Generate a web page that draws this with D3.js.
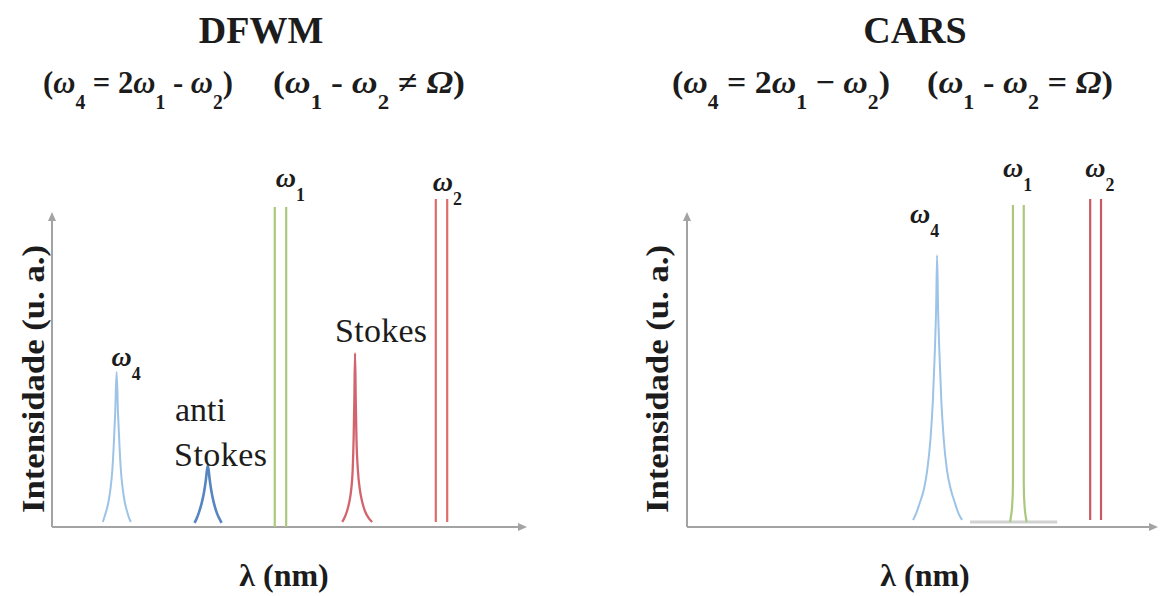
<!DOCTYPE html>
<html>
<head>
<meta charset="utf-8">
<script src="https://cdn.jsdelivr.net/npm/d3@7"></script>
<style>
  html, body { margin: 0; padding: 0; background: #fff; }
  svg { display: block; }
  text { font-family: "Liberation Serif", "Times New Roman", "DejaVu Serif", serif; fill: #1c1c1c; }
</style>
</head>
<body>
<svg id="chart" width="1161" height="596"></svg>
<script>
// ---- Spectra (λ in arbitrary units 0–100, intensity in a.u. 0–100) ----

// DFWM panel
const dfwmW4Peak = [[10.7,1.6],[11.0,3],[11.4,5],[11.9,8],[12.3,12],[12.7,18],[13.0,26],[13.3,36],[13.6,49.2],[13.9,36],[14.2,26],[14.5,18],[14.9,12],[15.3,8],[15.8,5],[16.2,3],[16.6,1.6]];
const dfwmAntiStokesPeak = [[30.0,1.3],[30.4,2.5],[30.9,4.5],[31.5,7.5],[32.0,11],[32.4,15],[32.8,19.7],[33.2,15],[33.6,11],[34.1,7.5],[34.7,4.5],[35.3,2.5],[35.7,1.3]];
const dfwmStokesPeak = [[61.1,1.6],[61.6,3],[62.1,5],[62.6,8],[63.0,12],[63.3,18],[63.5,28],[63.65,40],[63.8,55.2],[63.95,40],[64.1,28],[64.4,18],[64.8,12],[65.3,8],[65.9,5],[66.6,3],[67.4,1.6]];
const dfwmW1Edges = [[[46.9,0],[46.9,101.6]], [[49.3,0],[49.3,101.6]]];
const dfwmW2Edges = [[[80.8,1.6],[80.8,104.1]], [[83.2,1.6],[83.2,104.1]]];

// CARS panel
const carsW4Peak = [[48.0,2.2],[48.7,4.5],[49.5,8],[50.3,12],[51.0,18],[51.7,28],[52.2,40],[52.6,55],[52.9,70],[53.1,86.3],[53.3,70],[53.6,55],[54.0,40],[54.5,28],[55.2,18],[56.0,12],[56.8,8],[57.6,4.5],[58.4,2.2]];
const carsW1Edges = [[[68.6,1.6],[69.0,6],[69.2,14],[69.2,102.2]], [[72.1,1.6],[71.7,6],[71.5,14],[71.5,102.2]]];
const carsW2Edges = [[[85.6,2.2],[85.6,104.1]], [[87.9,2.2],[87.9,104.1]]];
const carsBaseline = [[60.1,1.6],[78.6,1.6]];

// Axis titles
const yTitle = "Intensidade (u. a.)";
const xTitle = "λ (nm)";

const svg = d3.select("#chart");

const colors = {
  w4: "#9dc3e6",
  anti: "#5685c0",
  green: "#abc87d",
  redLine: "#df6b6b",
  stokes: "#d2646d",
  redCars: "#cc5864",
  axis: "#a3a3a3",
  base: "#d2d2d2"
};

// rich text helper: parts = [{t, it, sub}]
function richText(g, x, y, parts, size, opts = {}) {
  const t = g.append("text")
    .attr("x", x).attr("y", y)
    .attr("font-size", size)
    .attr("font-weight", opts.weight || "bold")
    .attr("text-anchor", opts.anchor || "start");
  let off = 0;
  parts.forEach(p => {
    const target = p.sub ? size * 0.5 : 0;
    t.append("tspan").text(p.t)
      .attr("dy", target - off)
      .attr("font-size", p.sub ? size * 0.64 : size)
      .attr("font-style", p.it ? "italic" : "normal");
    off = target;
  });
  if (opts.len) t.attr("textLength", opts.len).attr("lengthAdjust", "spacingAndGlyphs");
  return t;
}

function omegaLabel(g, x, y, digit, size) {
  return richText(g, x, y, [{t: "ω", it: true}, {t: digit, sub: true}], size);
}

function panel(cfg) {
  const g = svg.append("g");
  const x = d3.scaleLinear().domain([0, 100]).range([cfg.x0, cfg.x1]);
  const y = d3.scaleLinear().domain([0, 100]).range([cfg.yBase, cfg.yTop]);
  const line = d3.line().x(d => x(d[0])).y(d => y(d[1]));
  const peakLine = d3.line().x(d => x(d[0])).y(d => y(d[1])).curve(d3.curveMonotoneX);

  // axes with arrow heads
  g.append("line").attr("x1", x(0)).attr("y1", y(0)).attr("x2", x(100) - 4).attr("y2", y(0))
    .attr("stroke", colors.axis).attr("stroke-width", 2);
  g.append("line").attr("x1", x(0)).attr("y1", y(0)).attr("x2", x(0)).attr("y2", y(100) + 4)
    .attr("stroke", colors.axis).attr("stroke-width", 2);
  g.append("path")
    .attr("d", `M${x(100)},${y(0)} l-9,-4 l0,8 z`).attr("fill", colors.axis);
  g.append("path")
    .attr("d", `M${x(0)},${y(100)} l-4,9 l8,0 z`).attr("fill", colors.axis);

  cfg.draw(g, x, y, line, peakLine);

  // titles
  g.append("text").attr("x", cfg.titleX).attr("y", 43).attr("text-anchor", "middle")
    .attr("font-size", 38).attr("font-weight", "bold").text(cfg.title);
  cfg.formula(g);

  g.append("text")
    .attr("transform", `translate(${cfg.yTitleX},379) rotate(-90)`)
    .attr("text-anchor", "middle").attr("font-size", 32).attr("font-weight", "bold")
    .attr("textLength", 268).attr("lengthAdjust", "spacingAndGlyphs")
    .text(yTitle);
  g.append("text").attr("x", cfg.xTitleX).attr("y", 586).attr("text-anchor", "middle")
    .attr("font-size", 32).attr("font-weight", "bold").text(xTitle);
}

// ---- DFWM ----
panel({
  x0: 52, x1: 527, yBase: 527, yTop: 212,
  title: "DFWM", titleX: 261, yTitleX: 44, xTitleX: 284,
  formula: g => {
    richText(g, 43, 93, [{t:"("},{t:"ω",it:true},{t:"4",sub:true},{t:" = 2"},{t:"ω",it:true},{t:"1",sub:true},{t:" - "},{t:"ω",it:true},{t:"2",sub:true},{t:")"}], 32, {len: 190});
    richText(g, 273, 93, [{t:"("},{t:"ω",it:true},{t:"1",sub:true},{t:" - "},{t:"ω",it:true},{t:"2",sub:true},{t:" ≠ "},{t:"Ω",it:true},{t:")"}], 32, {len: 192});
  },
  draw: (g, x, y, line, peakLine) => {
    const path = (d, c, w, gen) => g.append("path").datum(d).attr("d", gen || line)
      .attr("fill", "none").attr("stroke", c).attr("stroke-width", w).attr("stroke-linejoin", "round");
    path(dfwmW4Peak, colors.w4, 2, peakLine);
    path(dfwmAntiStokesPeak, colors.anti, 2.6, peakLine);
    path(dfwmStokesPeak, colors.stokes, 2.3, peakLine);
    dfwmW1Edges.forEach(e => path(e, colors.green, 2.2));
    dfwmW2Edges.forEach(e => path(e, colors.redLine, 2.2));

    omegaLabel(g, x(dfwmW4Peak[8][0]) - 5, y(dfwmW4Peak[8][1]) - 6, "4", 28);
    omegaLabel(g, x(dfwmW1Edges[0][1][0]) + 1, y(dfwmW1Edges[0][1][1]) - 20, "1", 28);
    omegaLabel(g, x(dfwmW2Edges[0][1][0]) - 3, y(dfwmW2Edges[0][1][1]) - 8, "2", 28);

    g.append("text").attr("x", 175).attr("y", 421).attr("font-size", 34).text("anti");
    g.append("text").attr("x", 174).attr("y", 466).attr("font-size", 34).attr("textLength", 93).text("Stokes");
    g.append("text").attr("x", 335).attr("y", 342).attr("font-size", 34).attr("textLength", 92).text("Stokes");
  }
});

// ---- CARS ----
panel({
  x0: 687, x1: 1158, yBase: 527, yTop: 212,
  title: "CARS", titleX: 915, yTitleX: 668, xTitleX: 925,
  formula: g => {
    richText(g, 672, 93, [{t:"("},{t:"ω",it:true},{t:"4",sub:true},{t:" = 2"},{t:"ω",it:true},{t:"1",sub:true},{t:" − "},{t:"ω",it:true},{t:"2",sub:true},{t:")"}], 32, {len: 218});
    richText(g, 927, 93, [{t:"("},{t:"ω",it:true},{t:"1",sub:true},{t:" - "},{t:"ω",it:true},{t:"2",sub:true},{t:" = "},{t:"Ω",it:true},{t:")"}], 32, {len: 186});
  },
  draw: (g, x, y, line, peakLine) => {
    const path = (d, c, w, gen) => g.append("path").datum(d).attr("d", gen || line)
      .attr("fill", "none").attr("stroke", c).attr("stroke-width", w).attr("stroke-linejoin", "round");
    path(carsBaseline, colors.base, 3);
    path(carsW4Peak, colors.w4, 2, peakLine);
    carsW1Edges.forEach(e => path(e, colors.green, 2.2, d3.line().x(d => x(d[0])).y(d => y(d[1])).curve(d3.curveMonotoneY)));
    carsW2Edges.forEach(e => path(e, colors.redCars, 2.2));

    omegaLabel(g, x(carsW4Peak[9][0]) - 27, y(carsW4Peak[9][1]) - 32, "4", 28);
    omegaLabel(g, x(carsW1Edges[0][3][0]) - 10, y(carsW1Edges[0][3][1]) - 28, "1", 28);
    omegaLabel(g, x(carsW2Edges[0][1][0]) - 5, y(carsW2Edges[0][1][1]) - 22, "2", 28);
  }
});
</script>
</body>
</html>
